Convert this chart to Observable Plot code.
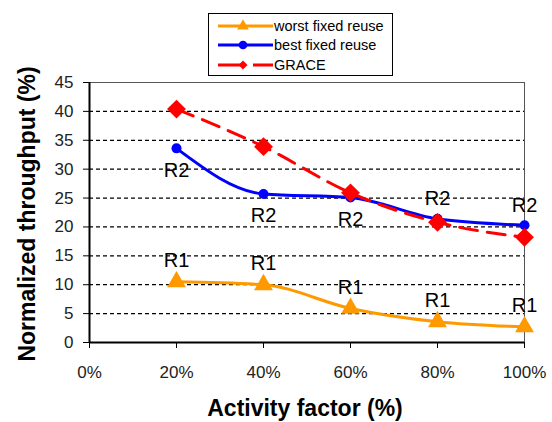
<!DOCTYPE html>
<html>
<head>
<meta charset="utf-8">
<script src="https://cdn.jsdelivr.net/npm/d3@7"></script>
<script src="https://cdn.jsdelivr.net/npm/@observablehq/plot@0.6"></script>
<style>
  html, body { margin: 0; padding: 0; background: #fff; }
  #wrap { position: relative; width: 552px; height: 422px; font-family: "Liberation Sans", Arial, sans-serif; }
  #legend { position: absolute; left: 208px; top: 13px; width: 185px; height: 63px; border: 1px solid #000; background: #fff; box-sizing: border-box; padding-top: 2px; }
  .row { display: flex; align-items: center; height: 19.5px; font-size: 14.5px; color: #000; }
  .row svg { margin-left: 9px; margin-right: 1px; }
  #ylab { position: absolute; left: 27px; top: 214px; transform: translate(-50%, -50%) rotate(-90deg); font-weight: bold; font-size: 23px; white-space: nowrap; color: #000; }
  #xlab { position: absolute; left: 305px; top: 408px; transform: translate(-50%, -50%); font-weight: bold; font-size: 23px; white-space: nowrap; color: #000; }
</style>
</head>
<body>
<div id="wrap">
  <div id="chart"></div>
  <div id="legend"></div>
  <div id="ylab">Normalized throughput (%)</div>
  <div id="xlab">Activity factor (%)</div>
</div>
<script>
const activity = [20, 40, 60, 80, 100];
const worstFixed = [10.5, 10.0, 5.9, 3.6, 2.7];
const bestFixed = [33.6, 25.7, 25.1, 21.4, 20.3];
const grace = [40.4, 33.9, 25.9, 20.8, 18.2];
const worstLabels = ["R1", "R1", "R1", "R1", "R1"];
const bestLabels = ["R2", "R2", "R2", "R2", "R2"];
const xTicks = [0, 20, 40, 60, 80, 100];
const yTicks = [0, 5, 10, 15, 20, 25, 30, 35, 40, 45];
const seriesNames = ["worst fixed reuse", "best fixed reuse", "GRACE"];

const orange = "#FF9900", blue = "#0000FF", red = "#FF0000";

const worstData = activity.map((x, i) => ({x, y: worstFixed[i], label: worstLabels[i]}));
const bestData = activity.map((x, i) => ({x, y: bestFixed[i], label: bestLabels[i], i}));
const graceData = activity.map((x, i) => ({x, y: grace[i]}));

const font = "'Liberation Sans', Arial, sans-serif";

const chart = Plot.plot({
  width: 552,
  height: 422,
  marginLeft: 89,
  marginRight: 28,
  marginTop: 82,
  marginBottom: 80,
  style: {fontFamily: font, fontSize: "17px", color: "#222", background: "#fff"},
  x: {domain: [0, 100], ticks: xTicks, tickFormat: d => d + "%", label: null},
  y: {domain: [0, 45], ticks: yTicks, label: null},
  marks: [
    Plot.ruleY(yTicks.filter(d => d > 0 && d < 45), {stroke: "#000", strokeDasharray: "4,3", strokeWidth: 1.2}),
    Plot.frame({stroke: "#555", strokeWidth: 1}),
    Plot.ruleX([0], {stroke: "#000", strokeWidth: 2}),
    Plot.ruleY([0], {stroke: "#000", strokeWidth: 2}),
    Plot.axisX({ticks: xTicks, tickFormat: d => d + "%", tickSize: 6, tickPadding: 17, fontSize: 17, stroke: "#000", label: null}),
    Plot.axisY({ticks: yTicks, tickSize: 6, tickPadding: 10, fontSize: 17, stroke: "#000", label: null}),
    Plot.line(worstData, {x: "x", y: "y", stroke: orange, strokeWidth: 3, curve: "monotone-x"}),
    Plot.line(bestData, {x: "x", y: "y", stroke: blue, strokeWidth: 3, curve: "monotone-x"}),
    Plot.line(graceData, {x: "x", y: "y", stroke: red, strokeWidth: 3, strokeDasharray: "18,10", curve: "monotone-x"}),
    Plot.dot(worstData, {x: "x", y: "y", symbol: "triangle", fill: orange, r: 7}),
    Plot.dot(bestData, {x: "x", y: "y", symbol: "circle", fill: blue, r: 5}),
    Plot.dot(graceData, {x: "x", y: "y", symbol: "diamond2", fill: red, r: 8.5}),
    Plot.text(worstData, {x: "x", y: "y", text: "label", dy: -21, fontSize: 20, fill: "#000"}),
    Plot.text(bestData.filter(d => d.i < 3), {x: "x", y: "y", text: "label", dy: 22, fontSize: 20, fill: "#000"}),
    Plot.text(bestData.filter(d => d.i >= 3), {x: "x", y: "y", text: "label", dy: -20, fontSize: 20, fill: "#000"})
  ]
});
document.getElementById("chart").appendChild(chart);

// legend
const legendSpecs = [
  {color: orange, shape: "triangle", dash: null},
  {color: blue, shape: "circle", dash: null},
  {color: red, shape: "diamond", dash: "28,7"}
];
const legend = document.getElementById("legend");
seriesNames.forEach((name, i) => {
  const s = legendSpecs[i];
  const row = document.createElement("div");
  row.className = "row";
  const svg = d3.create("svg").attr("width", 55).attr("height", 14);
  svg.append("line").attr("x1", 0).attr("x2", 55).attr("y1", 7).attr("y2", 7)
    .attr("stroke", s.color).attr("stroke-width", 3).attr("stroke-dasharray", s.dash);
  const sym = {triangle: d3.symbolTriangle, circle: d3.symbolCircle, diamond: d3.symbolSquare}[s.shape];
  const rot = s.shape === "diamond" ? " rotate(45)" : "";
  svg.append("path").attr("d", d3.symbol(sym, s.shape === "diamond" ? 40 : 60)()).attr("transform", "translate(25,7)" + rot).attr("fill", s.color);
  row.appendChild(svg.node());
  const t = document.createElement("span");
  t.textContent = name;
  row.appendChild(t);
  legend.appendChild(row);
});
</script>
</body>
</html>
